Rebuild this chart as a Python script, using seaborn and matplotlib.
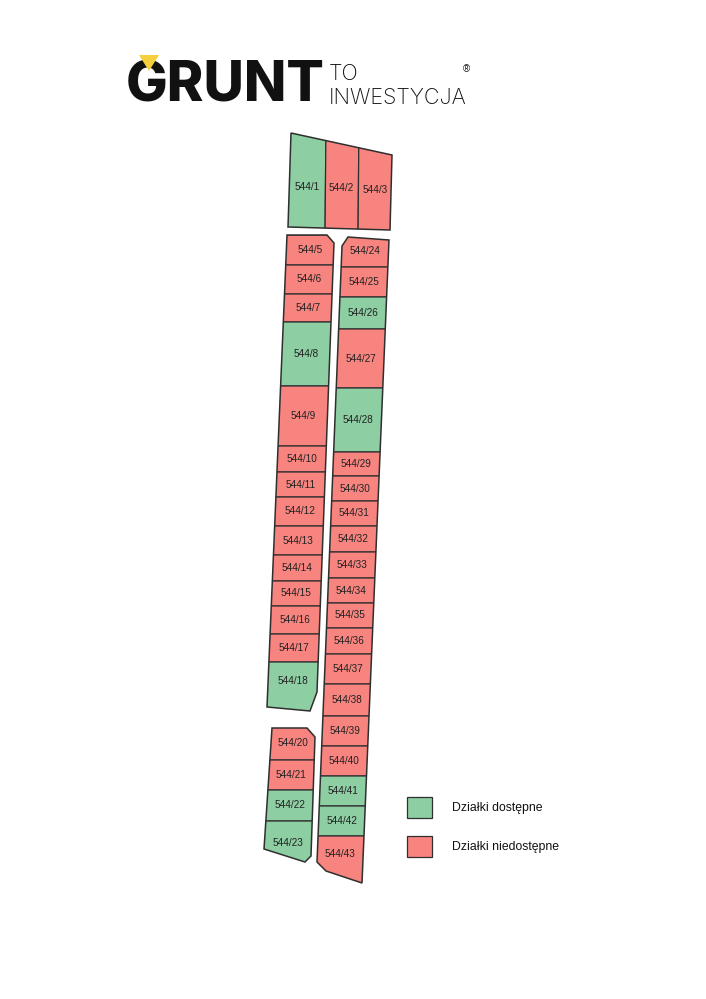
import matplotlib
matplotlib.use("Agg")
import matplotlib.pyplot as plt
from matplotlib.patches import Polygon
import numpy as np
import seaborn as sns

sns.set_theme(style="white")
plt.rcParams['font.family'] = ['Liberation Sans', 'DejaVu Sans']

# ---- data ----
top_labels = ["544/1", "544/2", "544/3"]
top_status = [1, 0, 0]
colA_labels = [f"544/{i}" for i in range(5, 19)]
colA_status = [0, 0, 0, 1, 0, 0, 0, 0, 0, 0, 0, 0, 0, 1]
colA_bounds = [235, 265, 294, 322, 386, 446, 472, 497, 526, 555, 581, 606, 634, 662, 712]
colB_labels = [f"544/{i}" for i in range(24, 44)]
colB_status = [0, 0, 1, 0, 1, 0, 0, 0, 0, 0, 0, 0, 0, 0, 0, 0, 0, 1, 1, 0]
colB_bounds = [236, 267, 297, 329, 388, 452, 476, 501, 526, 552, 578, 603, 628, 654,
               684, 716, 746, 776, 806, 836, 884]
colC_labels = ["544/20", "544/21", "544/22", "544/23"]
colC_status = [0, 0, 1, 1]
colC_bounds = [727, 760, 790, 821, 864]
legend_labels = ["Działki dostępne", "Działki niedostępne"]

pal = {1: "#8dcea3", 0: "#f8847f"}
edge = "#2f2f2f"

fig = plt.figure(figsize=(7.06, 9.99), dpi=100)
ax = fig.add_axes([0, 0, 1, 1])
ax.set_xlim(0, 706)
ax.set_ylim(999, 0)
ax.axis("off")


def column(outline, ledge, redge, bounds, labels, status, dx=0):
    clip = Polygon(outline, closed=True, fc="none", ec="none")
    ax.add_patch(clip)
    L = lambda y: np.interp(y, ledge[1], ledge[0])
    R = lambda y: np.interp(y, redge[1], redge[0])
    for i, (lab, st) in enumerate(zip(labels, status)):
        y0, y1 = bounds[i], bounds[i + 1]
        poly = [(L(y0) - 20, y0), (R(y0) + 20, y0), (R(y1) + 20, y1), (L(y1) - 20, y1)]
        p = Polygon(poly, closed=True, fc=pal[st], ec=edge, lw=0.9)
        ax.add_patch(p)
        p.set_clip_path(clip)
        ym = (y0 + y1) / 2
        if i == len(labels) - 1 and len(labels) > 5:
            ym = (y0 + y1) / 2 - 6
        ax.text((L(ym) + R(ym)) / 2 + dx, ym, lab, ha="center", va="center", fontsize=7.2, color="#222")
    ax.add_patch(Polygon(outline, closed=True, fc="none", ec=edge, lw=1.1))


# top block
top_out = [(291, 133), (392, 155), (390, 230), (288, 227)]
clip = Polygon(top_out, closed=True, fc="none", ec="none")
ax.add_patch(clip)
xs = [280, 326, 359, 400]
for i, (lab, st) in enumerate(zip(top_labels, top_status)):
    p = Polygon([(xs[i], 120), (xs[i + 1], 120), (xs[i + 1] - 1, 240), (xs[i] - 1, 240)],
                closed=True, fc=pal[st], ec=edge, lw=0.9)
    ax.add_patch(p)
    p.set_clip_path(clip)
ax.text(307, 187, top_labels[0], ha="center", va="center", fontsize=7.2, color="#222")
ax.text(341, 188, top_labels[1], ha="center", va="center", fontsize=7.2, color="#222")
ax.text(375, 190, top_labels[2], ha="center", va="center", fontsize=7.2, color="#222")
ax.add_patch(Polygon(top_out, closed=True, fc="none", ec=edge, lw=1.1))

# column A
column([(287, 235), (327, 235), (334, 243), (317, 692), (310, 711), (267, 707)],
       ([287, 267], [235, 707]), ([334, 317], [243, 692]),
       colA_bounds, colA_labels, colA_status)
# column B
column([(348, 237), (389, 240), (362, 883), (326, 871), (317, 862), (342, 246)],
       ([342, 317], [246, 862]), ([389, 362], [240, 883]),
       colB_bounds, colB_labels, colB_status)
# column C
column([(272, 728), (307, 728), (315, 737), (311, 856), (305, 862), (264, 849)],
       ([272, 264], [728, 849]), ([315, 311], [737, 856]),
       colC_bounds, colC_labels, colC_status)

# legend
for i, (lab, st) in enumerate(zip(legend_labels, [1, 0])):
    y = 797 + i * 39
    ax.add_patch(Polygon([(407, y), (432, y), (432, y + 21), (407, y + 21)],
                         closed=True, fc=pal[st], ec=edge, lw=0.9))
    ax.text(452, y + 11, lab, ha="left", va="center", fontsize=8.8, color="#111")

# logo
ax.text(126, 101, "GRUNT", fontsize=40, fontweight="heavy", family=["Inter", "DejaVu Sans"],
        color="#111111", ha="left", va="baseline")
ax.add_patch(Polygon([(139, 55), (159, 55), (149, 71)], closed=True, fc="#f6cf3c", ec="none",
                     zorder=5))
ax.text(329, 80, "TO", fontsize=15.5, fontweight="light", family=["Inter", "DejaVu Sans"],
        color="#111", ha="left", va="baseline")
ax.text(329, 104, "INWESTYCJA", fontsize=15.5, fontweight="light", family=["Inter", "DejaVu Sans"],
        color="#111", ha="left", va="baseline")
ax.text(466, 69, "®", fontsize=7, color="#111", ha="center", va="center")

fig.savefig("out.png", dpi=100, facecolor="white")
